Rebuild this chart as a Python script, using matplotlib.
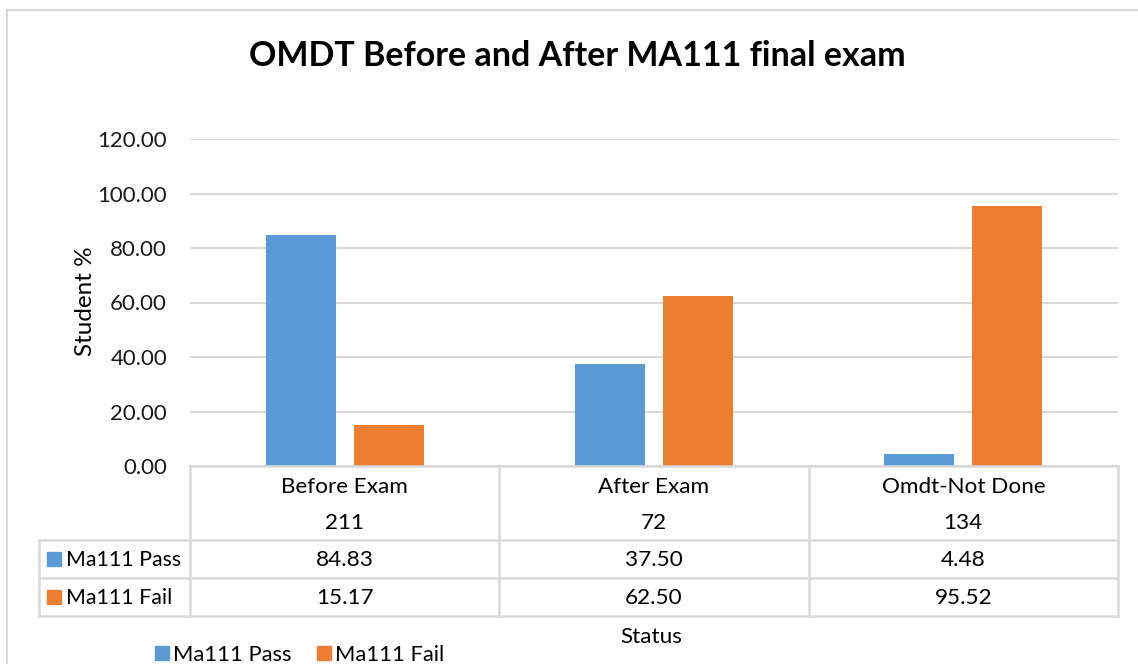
import matplotlib
matplotlib.use("Agg")
import matplotlib.pyplot as plt
from matplotlib.lines import Line2D
from matplotlib.patches import Rectangle
import matplotlib.transforms as mtransforms

categories = ["Before Exam", "After Exam", "Omdt-Not Done"]
counts = ["211", "72", "134"]
series_names = ["Ma111 Pass", "Ma111 Fail"]
pass_values = [84.83, 37.50, 4.48]
fail_values = [15.17, 62.50, 95.52]
y_ticks = [0, 20, 40, 60, 80, 100, 120]

colors = ["#5b9bd5", "#ed7d31"]
grid_c = "#d9d9d9"
FONT = "Lato"
plt.rcParams["font.family"] = [FONT, "DejaVu Sans"]

W, H = 1138, 664
fig = plt.figure(figsize=(W / 100, H / 100), dpi=100)

def fx(x):
    return x / W

def fy(y):
    return 1 - y / H

# chart border (left and top edges visible)
fig.add_artist(Line2D([fx(7), fx(7)], [fy(10), fy(H + 5)], transform=fig.transFigure, color=grid_c, lw=1.5))
fig.add_artist(Line2D([fx(7), fx(W + 5)], [fy(10), fy(10)], transform=fig.transFigure, color=grid_c, lw=1.5))

L, R, T, B = 190, 1118, 139, 466
ax = fig.add_axes([fx(L), fy(B), fx(R) - fx(L), fy(T) - fy(B)])
ax.set_xlim(-0.5, len(categories) - 0.5)
ax.set_ylim(0, 120)
for s in ax.spines.values():
    s.set_visible(False)
ax.set_yticks(y_ticks)
ax.set_yticklabels([f"{v:.2f}" for v in y_ticks], fontsize=16, color="#1a1a1a")
ax.tick_params(axis="y", length=0, pad=16.5)
ax.set_xticks([])
ax.grid(axis="y", color=grid_c, lw=1.5)
ax.set_axisbelow(True)

xs = list(range(len(categories)))
bw = 0.226
off = 0.142
ax.bar([x - off for x in xs], pass_values, width=bw, color=colors[0], zorder=3)
ax.bar([x + off for x in xs], fail_values, width=bw, color=colors[1], zorder=3)

# title
fig.text(fx(577), fy(56), "OMDT Before and After MA111 final exam", ha="center", va="center",
         fontsize=24.5, fontweight="bold", color="black")
# y label
fig.text(fx(86), fy(301), "Student %", rotation=90, ha="center", va="center", fontsize=17.5, color="black")

# data table
lw_t = 1.8
def hline(y, x0, x1):
    fig.add_artist(Line2D([fx(x0), fx(x1)], [fy(y), fy(y)], transform=fig.transFigure, color=grid_c, lw=lw_t))

def vline(x, y0, y1):
    fig.add_artist(Line2D([fx(x), fx(x)], [fy(y0), fy(y1)], transform=fig.transFigure, color=grid_c, lw=lw_t))

row_lines = [540, 578, 616]
hline(B, L, R)
for y in row_lines:
    hline(y, 39, R)
col_edges = [L + i * (R - L) / len(categories) for i in range(len(categories) + 1)]
for x in col_edges:
    vline(x, B, 616)
vline(39, 540, 616)

trans = mtransforms.blended_transform_factory(ax.transData, fig.transFigure)
fs = 16.2
for i, (c, n, p, f) in enumerate(zip(categories, counts, pass_values, fail_values)):
    ax.text(i, fy(487), c, transform=trans, ha="center", va="center", fontsize=fs, color="black")
    ax.text(i, fy(523), n, transform=trans, ha="center", va="center", fontsize=fs, color="black")
    ax.text(i, fy(560), f"{p:.2f}", transform=trans, ha="center", va="center", fontsize=fs, color="black")
    ax.text(i, fy(598), f"{f:.2f}", transform=trans, ha="center", va="center", fontsize=fs, color="black")

for name, col, yc in zip(series_names, colors, [559, 597]):
    fig.add_artist(Rectangle((fx(47), fy(yc + 7)), fx(14), fy(0) - fy(14), transform=fig.transFigure,
                             color=col))
    fig.text(fx(66), fy(yc + 1), name, ha="left", va="center", fontsize=15.4, color="black")

# axis title
fig.text(fx(651), fy(637), "Status", ha="center", va="center", fontsize=fs, color="black")

# legend
leg_items = [(155, series_names[0], colors[0]), (317, series_names[1], colors[1])]
for x0, name, col in leg_items:
    fig.add_artist(Rectangle((fx(x0), fy(660)), fx(14), fy(0) - fy(14), transform=fig.transFigure, color=col))
    fig.text(fx(x0 + 18), fy(655), name, ha="left", va="center", fontsize=15.8, color="black")

fig.savefig("out.png", dpi=100)
